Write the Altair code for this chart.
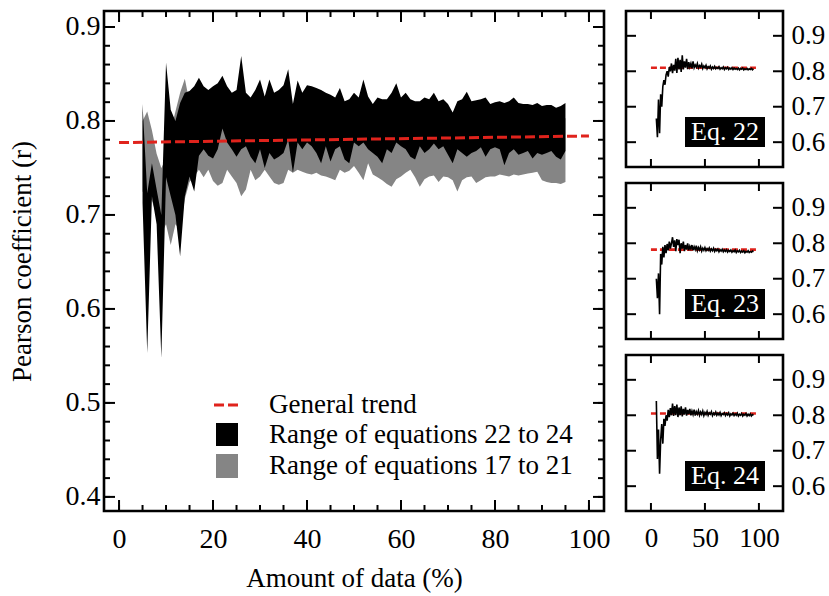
import altair as alt
import pandas as pd

FONT = "Liberation Serif"

# ---------------- data ----------------
pct = list(range(5, 96))

black_upper = [0.818, 0.723, 0.755, 0.727, 0.700, 0.862, 0.812, 0.800, 0.819, 0.830,
               0.832, 0.837, 0.846, 0.837, 0.833, 0.837, 0.840, 0.848, 0.837, 0.830,
               0.833, 0.869, 0.830, 0.825, 0.833, 0.844, 0.826, 0.844, 0.830, 0.833,
               0.838, 0.855, 0.818, 0.843, 0.830, 0.838, 0.837, 0.835, 0.833, 0.830,
               0.828, 0.825, 0.835, 0.821, 0.823, 0.830, 0.825, 0.844, 0.826, 0.818,
               0.825, 0.823, 0.823, 0.830, 0.840, 0.825, 0.830, 0.823, 0.821, 0.821,
               0.825, 0.823, 0.830, 0.821, 0.823, 0.818, 0.809, 0.821, 0.823, 0.831,
               0.821, 0.822, 0.823, 0.825, 0.818, 0.820, 0.821, 0.819, 0.821, 0.825,
               0.819, 0.818, 0.818, 0.817, 0.819, 0.816, 0.817, 0.817, 0.814, 0.816, 0.819]
black_lower = [0.713, 0.553, 0.720, 0.690, 0.548, 0.740, 0.720, 0.700, 0.656, 0.720,
               0.741, 0.725, 0.763, 0.770, 0.763, 0.760, 0.770, 0.792, 0.777, 0.770,
               0.762, 0.770, 0.773, 0.762, 0.755, 0.770, 0.750, 0.766, 0.759, 0.762,
               0.766, 0.780, 0.745, 0.777, 0.770, 0.777, 0.773, 0.766, 0.755, 0.773,
               0.757, 0.770, 0.773, 0.759, 0.755, 0.777, 0.773, 0.777, 0.770, 0.766,
               0.762, 0.755, 0.770, 0.766, 0.777, 0.773, 0.770, 0.762, 0.759, 0.773,
               0.766, 0.770, 0.776, 0.770, 0.773, 0.764, 0.755, 0.770, 0.766, 0.762,
               0.766, 0.768, 0.772, 0.762, 0.770, 0.772, 0.770, 0.753, 0.766, 0.770,
               0.764, 0.766, 0.768, 0.760, 0.766, 0.764, 0.766, 0.768, 0.762, 0.759, 0.768]
gray_upper = [0.800, 0.810, 0.790, 0.765, 0.750, 0.760, 0.790, 0.810, 0.830, 0.845,
              0.820, 0.805, 0.810, 0.806, 0.808, 0.804, 0.810, 0.806, 0.803, 0.807,
              0.805, 0.811, 0.804, 0.806, 0.808, 0.803, 0.807, 0.805, 0.809, 0.804,
              0.806, 0.810, 0.803, 0.807, 0.805, 0.808, 0.804, 0.806, 0.803, 0.807,
              0.805, 0.804, 0.807, 0.803, 0.806, 0.805, 0.808, 0.804, 0.806, 0.803,
              0.805, 0.804, 0.807, 0.803, 0.806, 0.804, 0.805, 0.803, 0.806, 0.804,
              0.805, 0.803, 0.806, 0.804, 0.805, 0.803, 0.804, 0.805, 0.803, 0.806,
              0.804, 0.805, 0.803, 0.806, 0.804, 0.805, 0.803, 0.804, 0.805, 0.803,
              0.804, 0.803, 0.805, 0.804, 0.803, 0.804, 0.803, 0.805, 0.803, 0.804, 0.803]
gray_lower = [0.725, 0.720, 0.715, 0.700, 0.680, 0.690, 0.668, 0.690, 0.684, 0.717,
              0.735, 0.741, 0.748, 0.740, 0.748, 0.736, 0.731, 0.734, 0.748, 0.741,
              0.734, 0.720, 0.727, 0.748, 0.737, 0.741, 0.748, 0.741, 0.734, 0.732,
              0.734, 0.748, 0.745, 0.748, 0.746, 0.744, 0.743, 0.745, 0.742, 0.741,
              0.739, 0.737, 0.748, 0.745, 0.747, 0.752, 0.745, 0.737, 0.755, 0.743,
              0.740, 0.737, 0.733, 0.730, 0.738, 0.741, 0.745, 0.748, 0.740, 0.730,
              0.738, 0.741, 0.742, 0.735, 0.741, 0.740, 0.737, 0.725, 0.737, 0.740,
              0.741, 0.734, 0.737, 0.740, 0.741, 0.741, 0.743, 0.742, 0.741, 0.743,
              0.742, 0.743, 0.744, 0.745, 0.746, 0.737, 0.735, 0.734, 0.734, 0.733, 0.735]

trend_x = [0, 100]
trend_y = [0.777, 0.784]

eq22 = [0.667, 0.614, 0.720, 0.625, 0.735, 0.700, 0.757, 0.775, 0.762, 0.790,
        0.800, 0.785, 0.812, 0.800, 0.822, 0.795, 0.818, 0.802, 0.835, 0.795,
        0.838, 0.805, 0.832, 0.798, 0.845, 0.805, 0.828, 0.810, 0.835, 0.806,
        0.826, 0.812, 0.822, 0.808, 0.828, 0.810, 0.818, 0.812, 0.822, 0.809,
        0.816, 0.812, 0.820, 0.808, 0.815, 0.810, 0.817, 0.807, 0.813, 0.809,
        0.815, 0.806, 0.812, 0.808, 0.814, 0.807, 0.811, 0.808, 0.813, 0.806,
        0.810, 0.807, 0.812, 0.805, 0.810, 0.807, 0.811, 0.805, 0.809, 0.806,
        0.810, 0.805, 0.809, 0.806, 0.808, 0.805, 0.809, 0.804, 0.808, 0.806,
        0.809, 0.804, 0.807, 0.805, 0.808, 0.804, 0.807, 0.805, 0.808, 0.804, 0.807]
eq23 = [0.700, 0.645, 0.715, 0.600, 0.770, 0.740, 0.790, 0.760, 0.795, 0.772,
        0.798, 0.780, 0.805, 0.785, 0.800, 0.817, 0.790, 0.808, 0.778, 0.812,
        0.795, 0.810, 0.772, 0.800, 0.785, 0.805, 0.778, 0.795, 0.782, 0.800,
        0.780, 0.792, 0.784, 0.795, 0.780, 0.790, 0.782, 0.793, 0.779, 0.788,
        0.781, 0.790, 0.778, 0.786, 0.780, 0.788, 0.779, 0.785, 0.780, 0.787,
        0.778, 0.784, 0.779, 0.786, 0.777, 0.783, 0.779, 0.784, 0.776, 0.782,
        0.778, 0.783, 0.776, 0.781, 0.777, 0.782, 0.775, 0.780, 0.777, 0.781,
        0.775, 0.779, 0.776, 0.781, 0.774, 0.779, 0.776, 0.780, 0.774, 0.778,
        0.775, 0.779, 0.773, 0.777, 0.775, 0.779, 0.774, 0.777, 0.775, 0.778, 0.776]
eq24 = [0.840, 0.677, 0.760, 0.635, 0.730, 0.775, 0.720, 0.790, 0.770, 0.800,
        0.785, 0.815, 0.795, 0.820, 0.800, 0.833, 0.798, 0.826, 0.800, 0.830,
        0.795, 0.822, 0.800, 0.825, 0.797, 0.818, 0.802, 0.822, 0.799, 0.815,
        0.803, 0.818, 0.800, 0.812, 0.802, 0.816, 0.799, 0.810, 0.803, 0.813,
        0.800, 0.809, 0.802, 0.812, 0.799, 0.808, 0.802, 0.811, 0.800, 0.807,
        0.803, 0.810, 0.799, 0.806, 0.802, 0.809, 0.800, 0.806, 0.801, 0.808,
        0.799, 0.805, 0.802, 0.807, 0.799, 0.805, 0.801, 0.807, 0.798, 0.804,
        0.801, 0.806, 0.799, 0.804, 0.800, 0.806, 0.798, 0.803, 0.800, 0.805,
        0.798, 0.803, 0.800, 0.805, 0.798, 0.803, 0.799, 0.804, 0.798, 0.802, 0.800]
eq_series = [eq22, eq23, eq24]
eq_trend = [0.810, 0.782, 0.805]
eq_names = ["Eq. 22", "Eq. 23", "Eq. 24"]

legend_labels = ["General trend", "Range of equations 22 to 24", "Range of equations 17 to 21"]

main_x_labels = [0, 20, 40, 60, 80, 100]
main_x_minor = [0, 5, 10, 15, 20, 25, 30, 35, 40, 45, 50, 55, 60, 65, 70, 75, 80, 85, 90, 95, 100]
main_y_labels = [0.4, 0.5, 0.6, 0.7, 0.8, 0.9]
main_y_minor = [0.40, 0.42, 0.44, 0.46, 0.48, 0.50, 0.52, 0.54, 0.56, 0.58, 0.60, 0.62, 0.64,
                0.66, 0.68, 0.70, 0.72, 0.74, 0.76, 0.78, 0.80, 0.82, 0.84, 0.86, 0.88, 0.90]
small_x_labels = [0, 50, 100]
small_y_labels = [0.6, 0.7, 0.8, 0.9]

# ---------------- layout constants ----------------
MW, MH = 500, 500
SW, SH = 157, 156
RED = "#e0231c"
GRAY = "#858585"
TICK_LW = 2

main_xs = alt.Scale(domain=[-3.2, 103.2], nice=False, zero=False)
main_ys = alt.Scale(domain=[0.385, 0.917], nice=False, zero=False)
small_xs = alt.Scale(domain=[-23.1, 122.3], nice=False, zero=False)
small_ys = alt.Scale(domain=[0.53, 0.97], nice=False, zero=False)

x_axis_main = alt.Axis(values=main_x_labels, format="d", ticks=False, domain=False, grid=False,
                       labelFont=FONT, labelFontSize=28, labelColor="black", labelPadding=14,
                       title="Amount of data (%)", titleFont=FONT, titleFontSize=27,
                       titleFontWeight="normal", titleColor="black", titlePadding=12)
y_axis_main = alt.Axis(values=main_y_labels, format=".1f", ticks=False, domain=False, grid=False,
                       labelFont=FONT, labelFontSize=28, labelColor="black", labelPadding=4,
                       title="Pearson coefficient (r)", titleFont=FONT, titleFontSize=27,
                       titleFontWeight="normal", titleColor="black", titlePadding=29)


def x_ticks(vals, scale, axis, H, length):
    df = pd.DataFrame({"t": vals})
    base = alt.Chart(df).mark_rule(color="black", strokeWidth=TICK_LW)
    xe = alt.X("t:Q", scale=scale, axis=axis)
    return [base.encode(x=xe, y=alt.value(H), y2=alt.value(H - length)),
            base.encode(x=xe, y=alt.value(0), y2=alt.value(length))]


def y_ticks(vals, scale, axis, W, length):
    df = pd.DataFrame({"t": vals})
    base = alt.Chart(df).mark_rule(color="black", strokeWidth=TICK_LW)
    ye = alt.Y("t:Q", scale=scale, axis=axis)
    return [base.encode(y=ye, x=alt.value(0), x2=alt.value(length)),
            base.encode(y=ye, x=alt.value(W), x2=alt.value(W - length))]


# ---------------- main panel ----------------
band = pd.DataFrame({"pct": pct, "bu": black_upper, "bl": black_lower,
                     "gu": gray_upper, "gl": gray_lower})
trend = pd.DataFrame({"x": trend_x, "y": trend_y})

gray_area = alt.Chart(band).mark_area(color=GRAY, opacity=1, clip=True).encode(
    x=alt.X("pct:Q", scale=main_xs, axis=x_axis_main),
    y=alt.Y("gl:Q", scale=main_ys, axis=y_axis_main),
    y2="gu:Q")
black_area = alt.Chart(band).mark_area(color="black", opacity=1, clip=True).encode(
    x=alt.X("pct:Q", scale=main_xs, axis=x_axis_main),
    y=alt.Y("bl:Q", scale=main_ys, axis=y_axis_main),
    y2="bu:Q")
trend_line = alt.Chart(trend).mark_line(color=RED, strokeWidth=3, strokeDash=[10, 4]).encode(
    x=alt.X("x:Q", scale=main_xs, axis=x_axis_main),
    y=alt.Y("y:Q", scale=main_ys, axis=y_axis_main))

one = pd.DataFrame({"k": [0]})
leg_dash = alt.Chart(one).mark_rule(color=RED, strokeWidth=3, strokeDash=[10, 4]).encode(
    x=alt.value(110), x2=alt.value(138), y=alt.value(394))
leg_black = alt.Chart(one).mark_rect(color="black").encode(
    x=alt.value(112), x2=alt.value(134), y=alt.value(412), y2=alt.value(435))
leg_gray = alt.Chart(one).mark_rect(color=GRAY).encode(
    x=alt.value(112), x2=alt.value(134), y=alt.value(443), y2=alt.value(467))
leg_texts = []
for lab, yy in zip(legend_labels, [394, 424, 455]):
    leg_texts.append(
        alt.Chart(pd.DataFrame({"label": [lab]})).mark_text(
            font=FONT, fontSize=27, align="left", baseline="middle", color="black").encode(
            x=alt.value(165), y=alt.value(yy), text="label:N"))

main_layers = [gray_area, black_area, trend_line]
main_layers += x_ticks(main_x_minor, main_xs, x_axis_main, MH, 6)
main_layers += x_ticks(main_x_labels, main_xs, x_axis_main, MH, 11)
main_layers += y_ticks(main_y_minor, main_ys, y_axis_main, MW, 6)
main_layers += y_ticks(main_y_labels, main_ys, y_axis_main, MW, 11)
main_layers += [leg_dash, leg_black, leg_gray] + leg_texts
main = alt.layer(*main_layers).properties(width=MW, height=MH)

# ---------------- small panels ----------------
panels = []
for i, (series, tr, name) in enumerate(zip(eq_series, eq_trend, eq_names)):
    last = i == len(eq_series) - 1
    if last:
        xax = alt.Axis(values=small_x_labels, format="d", ticks=False, domain=False, grid=False,
                       labelFont=FONT, labelFontSize=27, labelColor="black", labelPadding=14,
                       title=None)
    else:
        xax = None
    yax = alt.Axis(values=small_y_labels, format=".1f", ticks=False, domain=False, grid=False,
                   orient="right", labelFont=FONT, labelFontSize=27, labelColor="black",
                   labelPadding=8, title=None)
    df = pd.DataFrame({"pct": pct, "r": series})
    tdf = pd.DataFrame({"x": trend_x, "y": [tr, tr]})
    line = alt.Chart(df).mark_line(color="black", strokeWidth=1.6, clip=True).encode(
        x=alt.X("pct:Q", scale=small_xs, axis=xax),
        y=alt.Y("r:Q", scale=small_ys, axis=yax))
    tline = alt.Chart(tdf).mark_line(color=RED, strokeWidth=2.6, strokeDash=[6, 3]).encode(
        x=alt.X("x:Q", scale=small_xs, axis=xax),
        y=alt.Y("y:Q", scale=small_ys, axis=yax))
    box = alt.Chart(one).mark_rect(color="black").encode(
        x=alt.value(59), x2=alt.value(139), y=alt.value(106), y2=alt.value(136))
    label = alt.Chart(pd.DataFrame({"label": [name]})).mark_text(
        font=FONT, fontSize=26, align="center", baseline="middle", color="white").encode(
        x=alt.value(99), y=alt.value(121), text="label:N")
    layers = [tline, line]
    layers += x_ticks(small_x_labels, small_xs, xax, SH, 8)
    layers += y_ticks(small_y_labels, small_ys, yax, SW, 10)
    layers += [box, label]
    panels.append(alt.layer(*layers).properties(width=SW, height=SH))

right = alt.vconcat(*panels, spacing=16, bounds="flush")

chart = alt.hconcat(main, right, spacing=22, bounds="flush").properties(
    padding={"left": 6, "top": 8, "right": 0, "bottom": 0},
    background="white",
).configure_view(stroke="black", strokeWidth=2.6)

chart.save("out.html", embed_options={"renderer": "svg", "actions": False})
